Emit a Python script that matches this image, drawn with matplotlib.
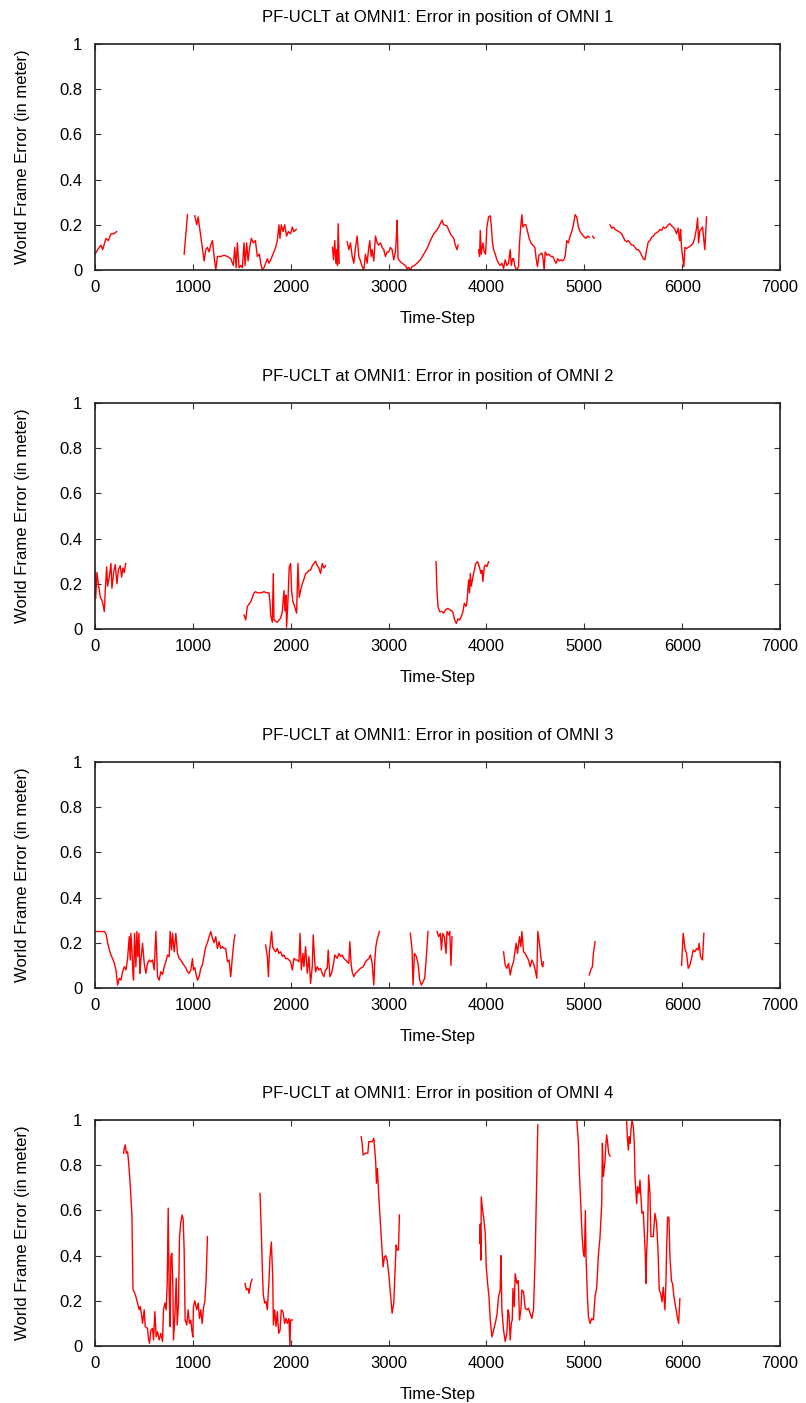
import matplotlib
matplotlib.use('Agg')
import matplotlib.pyplot as plt
import numpy as np

plt.rcParams.update({
    'font.family': ['Liberation Sans', 'DejaVu Sans'],
    'font.size': 12,
})

nan = np.nan

# OMNI 1 -- gaps in the track are marked with nan
omni1_t = [0, 27, 61, 78, 112, 135, 163, 190, 221, nan,
           911, 928, 945, nan,
           1020, 1040, 1054, 1074, 1098, 1115, 1132, 1149, 1166, 1183, 1200, 1217, 1234, 1251,
           1285, 1319, 1353, 1387, 1414, 1428, 1442, 1455, 1472, 1489, 1506, 1523, 1533, 1550,
           1564, 1581, 1598, 1618, 1639, 1659, 1680, 1693, 1710, 1727, 1744, 1761, 1778, 1795,
           1819, 1846, 1863, 1880, 1890, 1904, 1921, 1938, 1958, 1975, 1999, 2016, 2033, 2057, nan,
           2427, 2437, 2450, 2461, 2471, 2478, 2485, 2495, nan,
           2577, 2594, 2611, 2628, 2645, 2662, 2679, 2696, 2713, 2730, 2747, 2764, 2781, 2798,
           2808, 2822, 2832, 2849, 2866, 2883, 2900, 2917, 2934, 2951, 2968, 2985, 3002, 3019,
           3036, 3053, 3070, 3080, 3087, 3097, 3114, 3138, 3172, 3189, 3206, 3223, 3240, 3264,
           3291, 3325, 3359, 3393, 3427, 3461, 3500, 3529, 3546, 3563, 3597, 3631, 3665, 3682,
           3699, 3710, nan,
           3920, 3930, 3937, 3947, 3964, 3978, 3991, 4005, 4022, 4039, 4049, 4060, 4073, 4090,
           4107, 4124, 4141, 4158, 4175, 4192, 4209, 4226, 4243, 4254, 4267, 4277, 4288, 4298,
           4311, 4328, 4338, 4352, 4362, 4372, 4386, 4403, 4420, 4437, 4454, 4474, 4495, 4508,
           4522, 4536, 4549, 4566, 4576, 4590, 4600, 4617, 4638, 4658, 4678, 4699, 4712, 4729,
           4746, 4763, 4780, 4797, 4807, 4821, 4838, 4855, 4872, 4889, 4906, 4923, 4940, 4957,
           4974, 4991, 5015, 5036, 5053, nan, 5085, 5100, nan,
           5263, 5280, 5297, 5314, 5331, 5355, 5382, 5399, 5416, 5433, 5450, 5467, 5484, 5501,
           5518, 5535, 5552, 5569, 5586, 5603, 5620, 5637, 5654, 5671, 5688, 5705, 5722, 5739,
           5756, 5773, 5790, 5807, 5824, 5841, 5858, 5875, 5892, 5909, 5926, 5943, 5960, 5970,
           5977, 5984, 5994, 6004, 6018, 6028, 6045, 6062, 6079, 6096, 6113, 6130, 6147, 6158,
           6168, 6181, 6195, 6209, 6222, 6232, 6249]
omni1_err = [0.07, 0.09, 0.11, 0.09, 0.14, 0.13, 0.16, 0.16, 0.17, nan,
             0.07, 0.16, 0.245, nan,
             0.24, 0.2, 0.235, 0.17, 0.09, 0.04, 0.09, 0.1, 0.08, 0.11, 0.13, 0.06, 0.0, 0.06,
             0.06, 0.065, 0.06, 0.05, 0.02, 0.1, 0.01, 0.12, 0.01, 0.02, 0.01, 0.12, 0.02, 0.12,
             0.04, 0.1, 0.14, 0.12, 0.13, 0.06, 0.07, 0.03, 0.0, 0.01, 0.03, 0.05, 0.03, 0.045,
             0.07, 0.1, 0.13, 0.2, 0.14, 0.2, 0.17, 0.2, 0.15, 0.17, 0.16, 0.19, 0.17, 0.18, nan,
             0.1, 0.045, 0.13, 0.03, 0.09, 0.02, 0.205, 0.03, nan,
             0.125, 0.09, 0.12, 0.06, 0.03, 0.1, 0.15, 0.06, 0.04, 0.015, 0.0, 0.07, 0.03, 0.1,
             0.13, 0.06, 0.09, 0.04, 0.15, 0.12, 0.11, 0.12, 0.1, 0.09, 0.06, 0.08, 0.08, 0.1,
             0.09, 0.045, 0.08, 0.15, 0.22, 0.05, 0.04, 0.03, 0.02, 0.005, 0.012, 0.0, 0.015, 0.02,
             0.03, 0.045, 0.07, 0.095, 0.13, 0.16, 0.18, 0.205, 0.22, 0.2, 0.195, 0.16, 0.14, 0.11,
             0.09, 0.11, nan,
             0.09, 0.06, 0.175, 0.07, 0.12, 0.08, 0.07, 0.19, 0.235, 0.24, 0.2, 0.13, 0.09, 0.07,
             0.045, 0.03, 0.02, 0.03, 0.007, 0.045, 0.02, 0.03, 0.09, 0.02, 0.05, 0.05, 0.02, 0.01,
             0.0, 0.015, 0.12, 0.2, 0.245, 0.19, 0.2, 0.2, 0.17, 0.14, 0.12, 0.11, 0.1, 0.05,
             0.015, 0.065, 0.07, 0.075, 0.06, 0.0, 0.08, 0.066, 0.07, 0.06, 0.06, 0.04, 0.03, 0.05,
             0.04, 0.045, 0.04, 0.05, 0.07, 0.13, 0.12, 0.15, 0.17, 0.2, 0.245, 0.235, 0.19, 0.17,
             0.16, 0.15, 0.14, 0.15, 0.145, nan, 0.15, 0.14, nan,
             0.2, 0.185, 0.19, 0.18, 0.175, 0.17, 0.16, 0.145, 0.13, 0.125, 0.13, 0.12, 0.11, 0.11,
             0.1, 0.09, 0.09, 0.08, 0.065, 0.05, 0.045, 0.09, 0.125, 0.13, 0.145, 0.15, 0.16, 0.165,
             0.17, 0.18, 0.175, 0.19, 0.185, 0.19, 0.2, 0.205, 0.195, 0.19, 0.18, 0.16, 0.185, 0.14,
             0.13, 0.18, 0.1, 0.06, 0.015, 0.1, 0.095, 0.1, 0.105, 0.11, 0.12, 0.145, 0.185, 0.23,
             0.12, 0.175, 0.18, 0.19, 0.13, 0.09, 0.235]

# OMNI 2
omni2_t = [0, 7, 20, 34, 54, 68, 82, 95, 105, 119, 129, 146, 163, 173, 190, 207, 224, 238,
           258, 272, 285, 299, 313, nan,
           1523, 1540, 1557, 1574, 1591, 1608, 1625, 1642, 1659, 1693, 1727, 1754, 1778, 1788,
           1795, 1812, 1822, 1829, 1846, 1863, 1880, 1897, 1914, 1931, 1941, 1951, 1958, 1972,
           1985, 1999, 2009, 2023, 2040, 2060, 2074, 2087, 2101, 2118, 2135, 2152, 2169, 2186,
           2203, 2220, 2237, 2254, 2271, 2288, 2305, 2322, 2339, 2356, nan,
           3485, 3495, 3505, 3522, 3546, 3563, 3580, 3604, 3631, 3655, 3665, 3675, 3692, 3709,
           3726, 3743, 3760, 3774, 3791, 3801, 3818, 3828, 3835, 3845, 3862, 3876, 3890, 3910,
           3927, 3944, 3954, 3964, 3978, 3988, 4005, 4022]
omni2_err = [0.26, 0.135, 0.25, 0.2, 0.14, 0.13, 0.11, 0.077, 0.17, 0.275, 0.19, 0.23, 0.29,
             0.18, 0.25, 0.285, 0.2, 0.26, 0.28, 0.23, 0.27, 0.25, 0.29, nan,
             0.062, 0.04, 0.1, 0.11, 0.12, 0.14, 0.16, 0.165, 0.16, 0.16, 0.165, 0.16, 0.16, 0.12,
             0.062, 0.03, 0.245, 0.04, 0.035, 0.03, 0.04, 0.048, 0.077, 0.17, 0.08, 0.15, 0.008, 0.13,
             0.275, 0.29, 0.17, 0.12, 0.1, 0.07, 0.29, 0.14, 0.17, 0.2, 0.22, 0.245, 0.25, 0.26,
             0.26, 0.28, 0.29, 0.3, 0.28, 0.27, 0.245, 0.29, 0.27, 0.28, nan,
             0.298, 0.165, 0.1, 0.077, 0.077, 0.07, 0.084, 0.091, 0.084, 0.077, 0.06, 0.04, 0.025, 0.045,
             0.04, 0.055, 0.077, 0.114, 0.1, 0.12, 0.217, 0.16, 0.246, 0.19, 0.23, 0.26, 0.29, 0.298,
             0.276, 0.246, 0.26, 0.21, 0.276, 0.283, 0.276, 0.298]

# OMNI 3
omni3_t = [0, 44, 95, 112, 129, 146, 163, 180, 197, 214, 231, 248, 265, 282, 299, 316, 333,
           350, 360, 367, 377, 388, 394, 404, 418, 428, 438, 449, 459, 469, 486, 503, 520, 537,
           554, 571, 588, 605, 622, 639, 656, 673, 690, 707, 724, 741, 758, 768, 782, 792, 809,
           826, 843, 860, 877, 894, 911, 928, 945, 962, 979, 996, 1006, 1020, 1033, 1047, 1064,
           1081, 1098, 1115, 1132, 1149, 1166, 1183, 1200, 1217, 1234, 1251, 1268, 1285, 1302,
           1319, 1336, 1353, 1370, 1387, 1404, 1421, 1431, nan,
           1744, 1761, 1772, 1782, 1795, 1805, 1816, 1829, 1846, 1863, 1880, 1897, 1914, 1931,
           1948, 1965, 1982, 1999, 2016, 2033, 2050, 2067, 2084, 2095, 2108, 2125, 2135, 2152,
           2169, 2186, 2203, 2220, 2230, 2244, 2254, 2271, 2288, 2305, 2322, 2339, 2356, 2373,
           2383, 2400, 2417, 2434, 2451, 2475, 2492, 2509, 2526, 2543, 2560, 2577, 2594, 2604,
           2618, 2628, 2645, 2662, 2679, 2696, 2713, 2740, 2764, 2781, 2798, 2815, 2832, 2849,
           2859, 2869, 2883, 2893, 2907, nan,
           3223, 3240, 3250, 3264, 3284, 3301, 3318, 3335, 3352, 3369, 3386, 3403, nan,
           3495, 3512, 3529, 3540, 3553, 3570, 3587, 3597, 3614, 3625, 3638, 3648, nan,
           4175, 4192, 4209, 4226, 4243, 4260, 4277, 4294, 4304, 4318, 4338, 4352, 4362, 4379,
           4396, 4413, 4430, 4447, 4464, 4481, 4498, 4515, 4525, 4542, 4556, 4566, 4576, 4583, nan,
           5052, 5066, 5083, 5093, 5110, nan,
           5994, 6011, 6028, 6045, 6062, 6079, 6096, 6113, 6130, 6147, 6164, 6174, 6188, 6208, 6222]
omni3_err = [0.25, 0.25, 0.25, 0.24, 0.2, 0.17, 0.146, 0.13, 0.11, 0.08, 0.013, 0.043, 0.035,
             0.072, 0.094, 0.08, 0.13, 0.227, 0.124, 0.242, 0.17, 0.06, 0.035, 0.242, 0.094, 0.25,
             0.139, 0.242, 0.065, 0.124, 0.198, 0.109, 0.065, 0.109, 0.124, 0.116, 0.124, 0.08,
             0.25, 0.05, 0.035, 0.072, 0.06, 0.094, 0.116, 0.146, 0.139, 0.25, 0.168, 0.242, 0.16,
             0.242, 0.153, 0.131, 0.124, 0.11, 0.1, 0.09, 0.072, 0.065, 0.08, 0.13, 0.08, 0.09,
             0.06, 0.035, 0.05, 0.087, 0.102, 0.146, 0.183, 0.2, 0.227, 0.25, 0.22, 0.2, 0.227,
             0.175, 0.205, 0.175, 0.183, 0.175, 0.175, 0.117, 0.124, 0.05, 0.139, 0.212, 0.235, nan,
             0.19, 0.139, 0.05, 0.16, 0.21, 0.25, 0.18, 0.17, 0.16, 0.175, 0.153, 0.16, 0.14, 0.146,
             0.13, 0.131, 0.124, 0.116, 0.08, 0.131, 0.124, 0.124, 0.116, 0.242, 0.08, 0.153, 0.094,
             0.183, 0.065, 0.139, 0.02, 0.094, 0.235, 0.124, 0.072, 0.094, 0.08, 0.087, 0.065, 0.05,
             0.08, 0.087, 0.168, 0.05, 0.065, 0.1, 0.146, 0.131, 0.153, 0.139, 0.146, 0.131, 0.124,
             0.116, 0.109, 0.205, 0.102, 0.072, 0.05, 0.065, 0.072, 0.08, 0.087, 0.094, 0.116, 0.124,
             0.131, 0.146, 0.109, 0.013, 0.12, 0.18, 0.215, 0.23, 0.25, nan,
             0.242, 0.168, 0.013, 0.153, 0.139, 0.109, 0.035, 0.013, 0.028, 0.043, 0.139, 0.25, nan,
             0.25, 0.227, 0.242, 0.168, 0.242, 0.227, 0.153, 0.25, 0.235, 0.25, 0.1, 0.227, nan,
             0.16, 0.1, 0.087, 0.109, 0.058, 0.094, 0.116, 0.168, 0.198, 0.153, 0.227, 0.183, 0.25,
             0.16, 0.153, 0.139, 0.124, 0.094, 0.124, 0.109, 0.08, 0.043, 0.25, 0.198, 0.139, 0.102,
             0.094, 0.116, nan,
             0.058, 0.08, 0.094, 0.153, 0.205, nan,
             0.1, 0.242, 0.175, 0.153, 0.087, 0.1, 0.131, 0.168, 0.16, 0.175, 0.168, 0.198, 0.139,
             0.124, 0.242]

# OMNI 4
omni4_t = [292, 299, 309, 320, 333, 343, 354, 367, 377, 388, 401, 418, 435, 452, 462, 476, 486,
           503, 513, 537, 544, 557, 571, 588, 598, 612, 625, 639, 656, 673, 690, 700, 714, 727,
           738, 748, 758, 768, 775, 785, 795, 802, 816, 830, 840, 853, 864, 877, 891, 901, 911,
           921, 938, 952, 965, 979, 989, 1000, 1006, 1020, 1040, 1054, 1068, 1081, 1095, 1108,
           1122, 1135, 1149, nan,
           1533, 1547, 1564, 1574, 1591, 1605, nan,
           1686, 1700, 1710, 1720, 1734, 1748, 1761, 1778, 1788, 1802, 1816, 1823, 1836, 1850,
           1863, 1877, 1891, 1904, 1921, 1938, 1952, 1965, 1982, 1992, 1999, 2016, nan,
           2720, 2730, 2740, 2764, 2788, 2798, 2832, 2849, 2859, 2869, 2876, 2886, 2900, 2917,
           2931, 2944, 2958, 2971, 2985, 3002, 3019, 3036, 3053, 3067, 3077, 3087, 3101, 3111, nan,
           3930, 3937, 3944, 3947, 3961, 3971, 3988, 3998, 4012, 4026, 4039, 4056, 4073, 4090,
           4107, 4124, 4141, 4148, 4158, 4175, 4192, 4209, 4220, 4230, 4243, 4254, 4264, 4271,
           4284, 4294, 4311, 4325, 4338, 4352, 4362, 4379, 4396, 4413, 4430, 4447, 4464, 4481,
           4498, 4515, 4525, nan,
           4923, 4940, 4950, 4964, 4978, 4991, 5001, 5011, 5018, 5032, 5042, 5059, 5076, 5093,
           5110, 5127, 5144, 5161, 5178, 5185, 5195, 5212, 5222, 5229, 5239, 5249, 5263, nan,
           5433, 5440, 5450, 5460, 5467, 5477, 5488, 5501, 5511, 5518, 5535, 5545, 5559, 5569,
           5579, 5589, 5603, 5613, 5623, 5630, 5637, 5647, 5657, 5671, 5681, 5705, 5722, 5739,
           5753, 5766, 5780, 5794, 5807, 5824, 5834, 5841, 5851, 5865, 5875, 5892, 5902, 5916,
           5933, 5950, 5964, 5977]
omni4_err = [0.853, 0.875, 0.89, 0.853, 0.86, 0.815, 0.75, 0.66, 0.58, 0.248, 0.24, 0.218, 0.19,
             0.16, 0.175, 0.137, 0.1, 0.16, 0.086, 0.078, 0.04, 0.012, 0.07, 0.078, 0.027, 0.152,
             0.04, 0.063, 0.027, 0.056, 0.02, 0.16, 0.19, 0.16, 0.277, 0.61, 0.233, 0.086, 0.395,
             0.41, 0.277, 0.027, 0.13, 0.3, 0.093, 0.19, 0.484, 0.55, 0.58, 0.56, 0.425, 0.115,
             0.093, 0.16, 0.1, 0.115, 0.07, 0.04, 0.174, 0.2, 0.16, 0.19, 0.122, 0.16, 0.1, 0.167,
             0.196, 0.29, 0.484, nan,
             0.277, 0.248, 0.255, 0.233, 0.277, 0.295, nan,
             0.675, 0.5, 0.336, 0.226, 0.19, 0.197, 0.16, 0.29, 0.39, 0.46, 0.307, 0.093, 0.16, 0.086,
             0.152, 0.056, 0.07, 0.16, 0.152, 0.1, 0.122, 0.1, 0.122, 0.0, 0.115, 0.115, nan,
             0.926, 0.897, 0.845, 0.853, 0.853, 0.904, 0.904, 0.919, 0.867, 0.808, 0.72, 0.786, 0.66,
             0.543, 0.454, 0.35, 0.395, 0.4, 0.38, 0.32, 0.233, 0.145, 0.19, 0.336, 0.447, 0.425,
             0.425, 0.58, nan,
             0.454, 0.54, 0.38, 0.66, 0.6, 0.57, 0.5, 0.35, 0.277, 0.218, 0.115, 0.04, 0.07, 0.1,
             0.137, 0.218, 0.248, 0.4, 0.16, 0.07, 0.02, 0.056, 0.16, 0.145, 0.027, 0.1, 0.115, 0.255,
             0.174, 0.32, 0.277, 0.29, 0.115, 0.16, 0.248, 0.24, 0.167, 0.16, 0.167, 0.145, 0.122,
             0.16, 0.395, 0.75, 0.978, nan,
             1.0, 0.897, 0.764, 0.63, 0.484, 0.41, 0.395, 0.6, 0.395, 0.218, 0.13, 0.1, 0.122, 0.115,
             0.218, 0.26, 0.4, 0.484, 0.63, 0.897, 0.75, 0.82, 0.9, 0.934, 0.897, 0.853, 0.84, nan,
             0.993, 0.926, 0.867, 0.926, 0.897, 0.956, 1.0, 0.97, 0.897, 0.75, 0.63, 0.705, 0.675,
             0.734, 0.66, 0.587, 0.594, 0.5, 0.41, 0.277, 0.41, 0.513, 0.757, 0.675, 0.484, 0.484,
             0.587, 0.543, 0.425, 0.248, 0.233, 0.196, 0.26, 0.16, 0.277, 0.425, 0.57, 0.57, 0.395,
             0.285, 0.277, 0.218, 0.174, 0.13, 0.1, 0.21]

series = [(omni1_t, omni1_err), (omni2_t, omni2_err), (omni3_t, omni3_err), (omni4_t, omni4_err)]
x_ticks = [0, 1000, 2000, 3000, 4000, 5000, 6000, 7000]
y_ticks = [0, 0.2, 0.4, 0.6, 0.8, 1]
y_tick_labels = ['0', '0.2', '0.4', '0.6', '0.8', '1']

W, H = 806, 1403
fig = plt.figure(figsize=(W / 100, H / 100), dpi=100)
panel_tops = [44, 403, 762, 1120]
left, right, height = 95, 780, 226

for i, (top, (t, err)) in enumerate(zip(panel_tops, series)):
    ax = fig.add_axes([left / W, 1 - (top + height) / H, (right - left) / W, height / H])
    ax.plot(t, err, color='#ff0000', linewidth=1.0)
    ax.set_xlim(0, 7000)
    ax.set_ylim(0, 1)
    ax.set_xticks(x_ticks)
    ax.set_yticks(y_ticks)
    ax.set_yticklabels(y_tick_labels)
    ax.tick_params(direction='in', length=4.5, width=0.8, top=True, right=True,
                   labelsize=12, color='#333333')
    ax.tick_params(axis='y', pad=9)
    ax.tick_params(axis='x', pad=7)
    for sp in ax.spines.values():
        sp.set_linewidth(1.2)
        sp.set_color('#222222')
    ax.set_xlabel('Time-Step', labelpad=12)
    ax.set_ylabel('World Frame Error (in meter)', labelpad=21)
    ax.set_title(f'PF-UCLT at OMNI1: Error in position of OMNI {i + 1}', fontsize=12, pad=16)

fig.savefig('out.png', dpi=100)
